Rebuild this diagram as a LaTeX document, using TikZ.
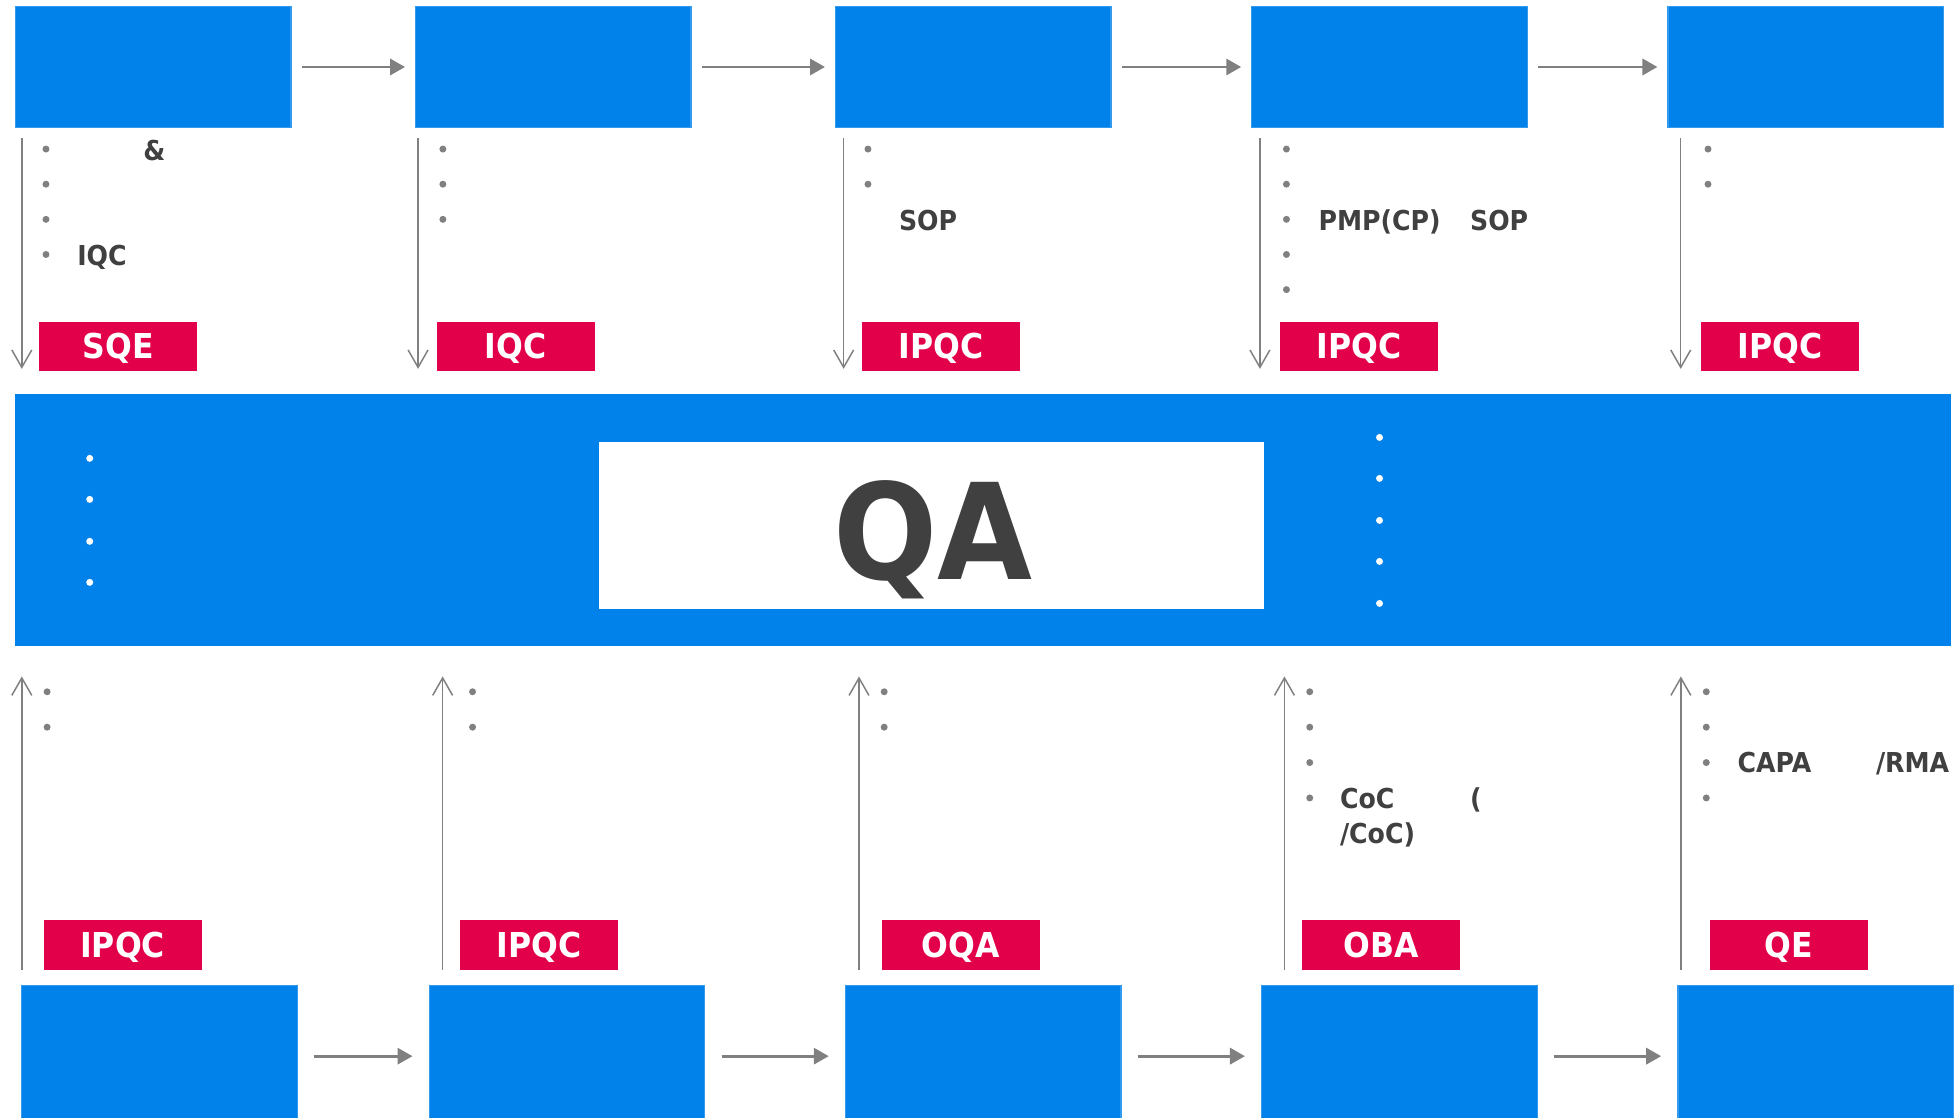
\documentclass[tikz,border=0pt]{standalone}
\usepackage{fontspec}
\setmainfont{DejaVu Sans}[FakeStretch=0.92]
\usetikzlibrary{arrows.meta,positioning}

\definecolor{qablue}{HTML}{0181EA}
\definecolor{qared}{HTML}{E3004A}
\definecolor{qagray}{HTML}{808080}
\definecolor{qatext}{HTML}{404040}

\tikzset{
  stepbox/.style={draw=qablue!80!white, line width=0.5pt, fill=qablue,
    minimum width=110.5pt, minimum height=48.75pt, inner sep=0pt, anchor=north west},
  botbox/.style={stepbox, minimum height=57pt},
  qtag/.style={fill=qared, text=white, font=\fontsize{13.75}{16}\selectfont\bfseries,
    minimum width=63.4pt, minimum height=20pt, inner sep=0pt, text height=10pt,
    text depth=-0.6pt, anchor=north west},
  flow/.style={draw=qagray, line width=1.1pt, -{Triangle[length=6pt,width=6.5pt]}},
  feed/.style={draw=qagray, line width=0.6pt, -{Straight Barb[length=7pt,width=8pt]}},
  itemtxt/.style={font=\fontsize{11}{13}\selectfont\bfseries, text=qatext,
    inner sep=0pt, anchor=base west},
}

\begin{document}
\begin{tikzpicture}[x=0.5pt,y=-0.5pt]
\useasboundingbox (0,0) rectangle (1568,896.4);

\foreach \x [count=\i] in {12,333,670,1004,1338}
  \node[stepbox] (t\i) at (\x,4.5) {};
\foreach \x [count=\i] in {17,344,678,1012,1346}
  \node[botbox] (b\i) at (\x,790) {};

\foreach \i [evaluate=\i as \j using int(\i+1)] in {1,...,4} {
  \draw[flow, shorten <=4pt, shorten >=4pt] (t\i) -- (t\j);
  \draw[flow, shorten <=6.5pt, shorten >=6.5pt] (b\i) -- (b\j);
}

\node[fill=qablue, minimum width=776.5pt, minimum height=100.8pt, inner sep=0pt,
  anchor=north west] (band) at (12,316) {};
\node[fill=white, minimum width=267pt, minimum height=67pt, inner sep=0pt,
  anchor=north west] (core) at (480,354) {};
\node[font=\fontsize{53.5}{60}\selectfont\bfseries, text=qatext, inner sep=0pt,
  anchor=base] (qa) at (748.5,465) {QA};

\foreach \y in {367.8,400.7,434.4,467.3}
  \fill[white] (72,\y) circle (1.4pt);
\foreach \y in {351,383.9,417.6,450.5,484.2}
  \fill[white] (1107,\y) circle (1.4pt);

\foreach \x [count=\i] in {17.5,335.5,677,1011,1348.7} {
  \coordinate (d\i) at (\x,0);
  \draw[feed, shorten <=4pt, shorten >=10pt] (t\i.south -| d\i) -- (band.north -| d\i);
}
\foreach \x [count=\i] in {17.5,355.2,689.3,1030.7,1348.8} {
  \coordinate (u\i) at (\x,0);
  \draw[feed, shorten <=6pt, shorten >=12.2pt] (b\i.north -| u\i) -- (band.south -| u\i);
}

\foreach \x/\txt [count=\i] in {31.2/SQE,350/IQC,691.2/IPQC,1026.6/IPQC,1364.4/IPQC}
  \node[qtag] (tg\i) at (\x,257.6) {\txt};
\foreach \x/\txt [count=\i] in {34.6/IPQC,368.6/IPQC,707/OQA,1044.7/OBA,1371.5/QE}
  \node[qtag] (bg\i) at (\x,737.6) {\txt};

\foreach \x/\n in {36.9/4,355.4/3,696.5/2,1032.3/5,1370.6/2}
  \foreach \k in {1,...,\n}
    \fill[qagray] (\x,{119.6+28.2*(\k-1)}) circle (1.4pt);
\foreach \x/\n in {37.8/2,379.2/2,709.5/2,1051/4,1369.2/4}
  \foreach \k in {1,...,\n}
    \fill[qagray] (\x,{555.1+28.4*(\k-1)}) circle (1.4pt);

\node[itemtxt] (amp) at (114.7,128.4) {\&};
\node[itemtxt] (iqc) at (61.6,212.7) {IQC};
\node[itemtxt] (sopa) at (721,184.6) {SOP};
\node[itemtxt] (pmp) at (1057.7,184.6) {PMP(CP)};
\node[itemtxt] (sopb) at (1179.3,184.6) {SOP};
\node[itemtxt] (coc) at (1074.9,649) {CoC};
\node[itemtxt] (paren) at (1179.3,649) {(};
\node[itemtxt] (cocb) at (1074.9,677.2) {/CoC)};
\node[itemtxt] (capa) at (1394,620.1) {CAPA};
\node[itemtxt] (rma) at (1505,620.1) {/RMA};

\end{tikzpicture}
\end{document}
